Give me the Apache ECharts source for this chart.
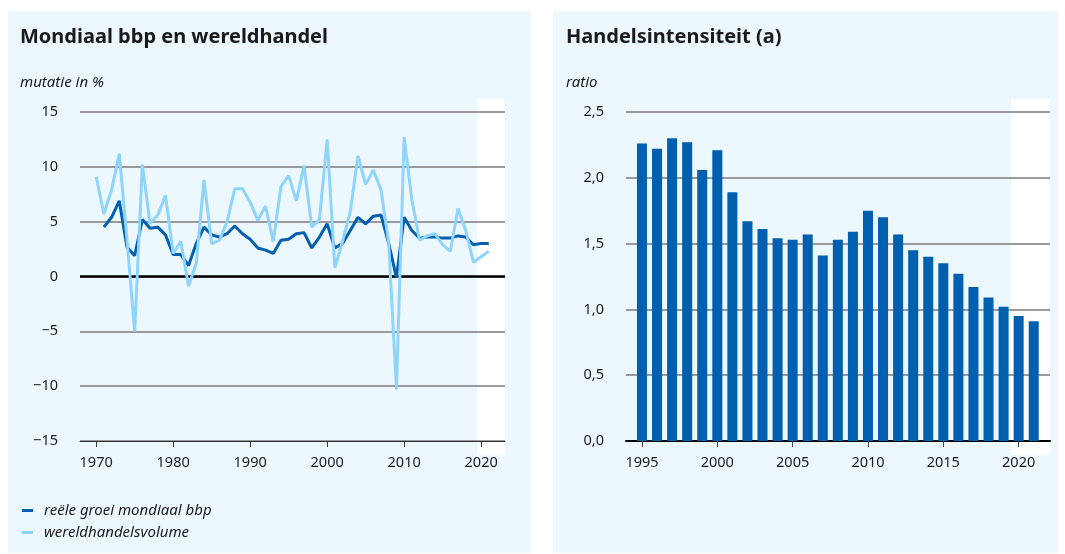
<!DOCTYPE html>
<html><head><meta charset="utf-8">
<script src="https://cdn.jsdelivr.net/npm/echarts@6/dist/echarts.min.js"></script>
<style>html,body{margin:0;padding:0;background:#fff}#c{width:1065px;height:554px}</style>
</head><body><div id="c"></div>
<script>
// ---- data (left chart) ----
const tradeYears = [1970,1971,1972,1973,1974,1975,1976,1977,1978,1979,1980,1981,1982,1983,1984,1985,1986,1987,1988,1989,1990,1991,1992,1993,1994,1995,1996,1997,1998,1999,2000,2001,2002,2003,2004,2005,2006,2007,2008,2009,2010,2011,2012,2013,2014,2015,2016,2017,2018,2019,2020,2021];
const tradeVolume = [9.1,5.7,7.9,11.2,3.4,-5.0,10.2,4.8,5.6,7.4,2.1,3.2,-0.9,1.2,8.8,3.0,3.3,5.0,8.0,8.0,6.8,5.1,6.4,3.2,8.2,9.2,6.9,10.1,4.5,5.2,12.5,0.8,3.2,5.9,11.0,8.4,9.7,7.9,3.0,-10.3,12.7,7.0,3.3,3.7,3.9,2.9,2.3,6.2,4.2,1.3,1.8,2.3];
const gdpYears = [1971,1972,1973,1974,1975,1976,1977,1978,1979,1980,1981,1982,1983,1984,1985,1986,1987,1988,1989,1990,1991,1992,1993,1994,1995,1996,1997,1998,1999,2000,2001,2002,2003,2004,2005,2006,2007,2008,2009,2010,2011,2012,2013,2014,2015,2016,2017,2018,2019,2020,2021];
const gdpGrowth = [4.5,5.4,6.9,2.7,1.9,5.2,4.4,4.5,3.8,2.0,2.0,1.0,3.0,4.5,3.8,3.6,3.9,4.6,3.9,3.4,2.6,2.4,2.1,3.3,3.4,3.9,4.0,2.6,3.6,4.8,2.6,3.0,4.2,5.4,4.8,5.5,5.6,3.0,-0.1,5.4,4.2,3.5,3.6,3.6,3.5,3.5,3.7,3.6,2.9,3.0,3.0];
const leftTickYears = [1970,1980,1990,2000,2010,2020];
// ---- data (right chart) ----
const intensYears = [1995,1996,1997,1998,1999,2000,2001,2002,2003,2004,2005,2006,2007,2008,2009,2010,2011,2012,2013,2014,2015,2016,2017,2018,2019,2020,2021];
const intensRatio = [2.26,2.22,2.30,2.27,2.06,2.21,1.89,1.67,1.61,1.54,1.53,1.57,1.41,1.53,1.59,1.75,1.70,1.57,1.45,1.40,1.35,1.27,1.17,1.09,1.02,0.95,0.91];
const rightTickYears = [1995,2000,2005,2010,2015,2020];
const forecastStart = 2019.5;

const FONT = 'Noto Sans';
const TXT = '#1a1a1a';
const PANEL = '#edf7fe';
const DARK = '#005fae';
const LIGHT = '#8fd4fd';
const GRIDC = '#7a7a7a';

const chart = echarts.init(document.getElementById('c'), null, {renderer:'canvas'});

const baseGraphic = [
  {type:'rect', z:-100, shape:{x:8,y:11,width:523,height:542}, style:{fill:PANEL}},
  {type:'rect', z:-100, shape:{x:553,y:11,width:505,height:542}, style:{fill:PANEL}}
];

const option = {
  backgroundColor:'#ffffff',
  animation:false,
  textStyle:{fontFamily:FONT, color:TXT},
  title:[
    {text:'Mondiaal bbp en wereldhandel', left:20, top:27, padding:0, textStyle:{fontFamily:FONT, fontSize:20, fontWeight:'bold', color:TXT}},
    {text:'mutatie in %', left:20, top:75, padding:0, textStyle:{fontFamily:FONT, fontSize:15, fontStyle:'italic', fontWeight:'normal', color:TXT}},
    {text:'Handelsintensiteit (a)', left:566, top:27, padding:0, textStyle:{fontFamily:FONT, fontSize:20, fontWeight:'bold', color:TXT}},
    {text:'ratio', left:566, top:75, padding:0, textStyle:{fontFamily:FONT, fontSize:15, fontStyle:'italic', fontWeight:'normal', color:TXT}}
  ],
  legend:{
    orient:'vertical', left:22, top:503, padding:0, itemWidth:11, itemHeight:3, itemGap:7,
    icon:'rect',
    data:['reële groei mondiaal bbp','wereldhandelsvolume'],
    textStyle:{fontFamily:FONT, fontSize:15, fontStyle:'italic', color:TXT, padding:[0,0,0,6]}
  },
  grid:[
    {left:80, top:112, width:425, height:329, containLabel:false},
    {left:626, top:112, width:424, height:329, containLabel:false}
  ],
  xAxis:[
    {type:'value', gridIndex:0, min:1967.9, max:2023.1,
     splitLine:{show:false},
     axisLine:{show:true, onZero:false, lineStyle:{color:'#333', width:1}},
     axisTick:{show:true, customValues:leftTickYears, length:6, lineStyle:{color:'#333', width:1}},
     axisLabel:{customValues:leftTickYears, formatter:v=>String(v), margin:14, fontSize:14.5, color:TXT, fontFamily:FONT}},
    {type:'value', gridIndex:1, min:1993.94, max:2022.08,
     splitLine:{show:false},
     axisLine:{show:true, onZero:false, lineStyle:{color:'#000', width:2}},
     axisTick:{show:true, customValues:rightTickYears, length:6, lineStyle:{color:'#444', width:1}},
     axisLabel:{customValues:rightTickYears, formatter:v=>String(v), margin:14, fontSize:14.5, color:TXT, fontFamily:FONT}}
  ],
  yAxis:[
    {type:'value', gridIndex:0, min:-15, max:15, interval:5,
     axisLine:{show:false}, axisTick:{show:false},
     splitLine:{show:true, lineStyle:{color:GRIDC, width:1.5}},
     axisLabel:{formatter:v=> v<0 ? '\u2212'+Math.abs(v) : String(v), margin:22, fontSize:14.5, color:TXT, fontFamily:FONT}},
    {type:'value', gridIndex:1, min:0, max:2.5, interval:0.5,
     axisLine:{show:false}, axisTick:{show:false},
     splitLine:{show:true, lineStyle:{color:GRIDC, width:1.5}},
     axisLabel:{formatter:v=> v.toFixed(1).replace('.', ','), margin:22, fontSize:14.5, color:TXT, fontFamily:FONT}}
  ],
  series:[
    {name:'reële groei mondiaal bbp', type:'line', xAxisIndex:0, yAxisIndex:0,
     data:gdpYears.map((y,i)=>[y,gdpGrowth[i]]),
     showSymbol:false, symbol:'none', color:DARK, lineStyle:{color:DARK, width:3}, z:3,
     markLine:{silent:true, symbol:'none', label:{show:false}, lineStyle:{color:'#000', width:2.5, type:'solid'}, data:[{yAxis:0}], z:2}},
    {name:'wereldhandelsvolume', type:'line', xAxisIndex:0, yAxisIndex:0,
     data:tradeYears.map((y,i)=>[y,tradeVolume[i]]),
     showSymbol:false, symbol:'none', color:LIGHT, lineStyle:{color:LIGHT, width:3}, z:4},
    {name:'handelsintensiteit', type:'bar', xAxisIndex:1, yAxisIndex:1,
     data:intensYears.map((y,i)=>[y,intensRatio[i]]),
     barWidth:10, itemStyle:{color:DARK}}
  ],
  graphic: baseGraphic
};
chart.setOption(option);

// white forecast strips, positioned through the axes
function strip(xi, yi, yTop, yBot, xMax){
  const x0 = chart.convertToPixel({xAxisIndex:xi}, forecastStart);
  const x1 = chart.convertToPixel({xAxisIndex:xi}, xMax);
  const y0 = chart.convertToPixel({yAxisIndex:yi}, yTop) - 13;
  const y1 = chart.convertToPixel({yAxisIndex:yi}, yBot) + 14;
  return {type:'rect', z:-50, shape:{x:x0, y:y0, width:x1-x0, height:y1-y0}, style:{fill:'#ffffff'}};
}
chart.setOption({graphic: baseGraphic.concat([
  strip(0,0,15,-15,2023.1),
  strip(1,1,2.5,0,2022.08)
])});
</script>
</body></html>
